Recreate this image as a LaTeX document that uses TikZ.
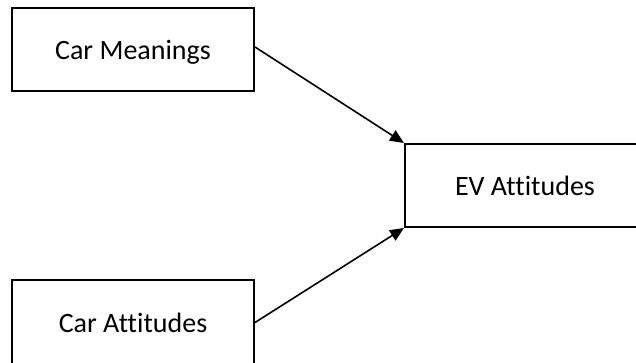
\documentclass[tikz,border=0pt]{standalone}
\usepackage{fontspec}
\setmainfont[Ligatures=NoCommon]{Carlito}
\usetikzlibrary{arrows.meta}
\begin{document}
\begin{tikzpicture}[x=1pt,y=-1pt,
  box/.style={draw=black,line width=2pt,rectangle,inner sep=0pt,text height=20pt,text depth=0pt,font=\fontsize{28}{32}\selectfont},
  conn/.style={line width=1.6pt,-{Triangle[length=14pt,width=12pt]}}]
\useasboundingbox (0,0) rectangle (636,362);
\clip (0,0) rectangle (636,362);
\node[box,minimum width=242pt,minimum height=83pt] (cm) at (133,49.5) {Car Meanings};
\node[box,minimum width=240pt,minimum height=83pt] (ev) at (525,185.5) {EV Attitudes};
\node[box,minimum width=242pt,minimum height=85pt] (ca) at (133,322.5) {Car Attitudes};
\draw[conn] ([yshift=2.5pt]cm.east) -- (ev.north west);
\draw[conn] ([yshift=0pt]ca.east) -- (ev.south west);
\end{tikzpicture}
\end{document}
